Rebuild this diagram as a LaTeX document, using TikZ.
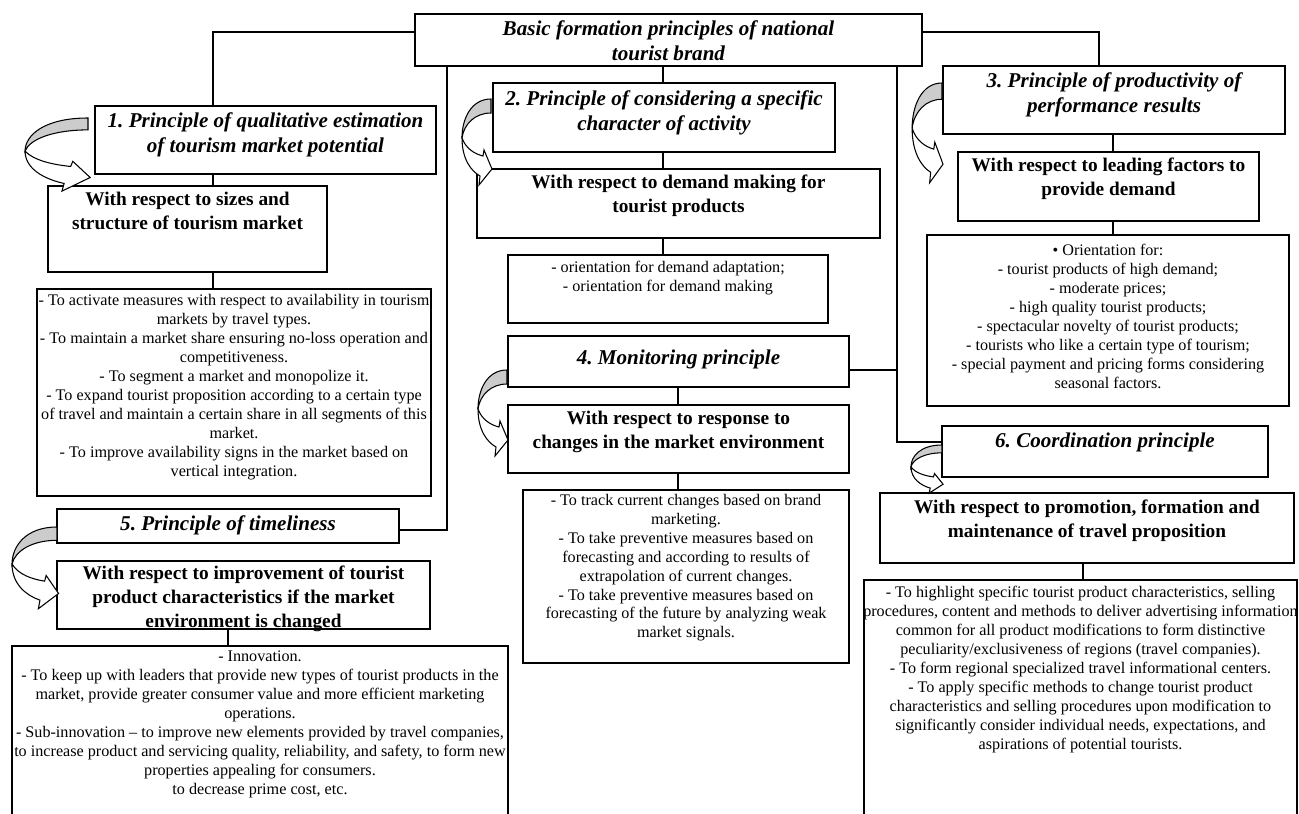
\documentclass[tikz,border=0pt]{standalone}
\usepackage{fontspec}
\setmainfont{Liberation Serif}
\usetikzlibrary{positioning, fit}
\frenchspacing

\tikzset{
	box/.style = {draw, line width=0.7pt, inner sep=0pt},
	ttl/.style = {inner sep=0pt, align=center, font=\bfseries\itshape\fontsize{12}{14.2}\selectfont},
	wrt/.style = {inner sep=0pt, align=center, font=\bfseries\fontsize{11}{13.6}\selectfont},
	lst/.style = {inner sep=0pt, align=center, font=\fontsize{9.2}{10.8}\selectfont},
	bendarrow/.pic = {
		\filldraw[fill=gray!40] (0,0) .. controls (-20,0) and (-29,20) .. (-29,39)
			.. controls (-27,25) and (-16,14) .. (0,14) -- cycle;
		\filldraw[fill=white] (-29,39) .. controls (-29,60) and (-20,72) .. (-11,77)
			-- (-12,86) -- (1,70) -- (-7,51) -- (-8,57)
			.. controls (-16,55) and (-25,50) .. cycle;
	}
}

\begin{document}
\begin{tikzpicture}[x=0.02cm, y=-0.02cm, line width=0.6pt]
	\useasboundingbox (0,0) rectangle (1299,814);

	% boxes
	\node[box, fit={(415,14) (922,66)}] (tb) {};
	\node[box, fit={(95,106) (436,174)}] (p1) {};
	\node[box, fit={(48,186) (327,272)}] (p1a) {};
	\node[box, fit={(37,289) (431,496)}] (p1b) {};
	\node[box, fit={(493,83) (835,152)}] (p2) {};
	\node[box, fit={(477,169) (880,238)}] (p2a) {};
	\node[box, fit={(508,255) (828,323)}] (p2b) {};
	\node[box, fit={(943,66) (1285,134)}] (p3) {};
	\node[box, fit={(958,152) (1259,221)}] (p3a) {};
	\node[box, fit={(927,235) (1289,406)}] (p3b) {};
	\node[box, fit={(508,336) (849,387)}] (p4) {};
	\node[box, fit={(508,405) (849,473)}] (p4a) {};
	\node[box, fit={(523,490) (849,663)}] (p4b) {};
	\node[box, fit={(57,509) (399,543)}] (p5) {};
	\node[box, fit={(57,561) (430,629)}] (p5a) {};
	\node[box, fit={(12,646) (508,830)}] (p5b) {};
	\node[box, fit={(942,426) (1268,477)}] (p6) {};
	\node[box, fit={(880,493) (1294,563)}] (p6a) {};
	\node[box, fit={(864,580) (1297,830)}] (p6b) {};

	% texts
	\node[ttl, below=0.14cm of tb.north] (tbt) {Basic formation principles of national\\tourist brand};
	\node[ttl, below=0.14cm of p1.north] (p1t) {1. Principle of qualitative estimation\\of tourism market potential};
	\node[wrt, below=0.12cm of p1a.north] (p1at) {With respect to sizes and\\structure of tourism market};
	\node[lst, below=0.11cm of p1b.north] (p1bt) {- To activate measures with respect to availability in tourism\\
		markets by travel types.\\
		- To maintain a market share ensuring no-loss operation and\\
		competitiveness.\\
		- To segment a market and monopolize it.\\
		- To expand tourist proposition according to a certain type\\
		of travel and maintain a certain share in all segments of this\\
		market.\\
		- To improve availability signs in the market based on\\
		vertical integration.};

	\node[ttl, below=0.16cm of p2.north] (p2t) {2. Principle of considering a specific\\character of activity};
	\node[wrt, below=0.12cm of p2a.north] (p2at) {With respect to demand making for\\tourist products};
	\node[lst, below=0.12cm of p2b.north] (p2bt) {- orientation for demand adaptation;\\- orientation for demand making};

	\node[ttl, below=0.14cm of p3.north] (p3t) {3. Principle of productivity of\\performance results};
	\node[wrt, below=0.12cm of p3a.north] (p3at) {With respect to leading factors to\\provide demand};
	\node[lst, below=0.18cm of p3b.north] (p3bt) {\textbullet{} Orientation for:\\
		- tourist products of high demand;\\
		- moderate prices;\\
		- high quality tourist products;\\
		- spectacular novelty of tourist products;\\
		- tourists who like a certain type of tourism;\\
		- special payment and pricing forms considering\\
		seasonal factors.};

	\node[ttl, below=0.28cm of p4.north] (p4t) {4. Monitoring principle};
	\node[wrt, below=0.12cm of p4a.north] (p4at) {With respect to response to\\changes in the market environment};
	\node[lst, below=0.08cm of p4b.north] (p4bt) {- To track current changes based on brand\\
		marketing.\\
		- To take preventive measures based on\\
		forecasting and according to results of\\
		extrapolation of current changes.\\
		- To take preventive measures based on\\
		forecasting of the future by analyzing weak\\
		market signals.};

	\node[ttl, below=0.14cm of p5.north] (p5t) {5. Principle of timeliness};
	\node[wrt, below=0.10cm of p5a.north] (p5at) {With respect to improvement of tourist\\product characteristics if the market\\environment is changed};
	\node[lst, below=0.10cm of p5b.north] (p5bt) {- Innovation.\\
		- To keep up with leaders that provide new types of tourist products in the\\
		market, provide greater consumer value and more efficient marketing\\
		operations.\\
		- Sub-innovation -- to improve new elements provided by travel companies,\\
		to increase product and servicing quality, reliability, and safety, to form new\\
		properties appealing for consumers.\\
		to decrease prime cost, etc.};

	\node[ttl, below=0.14cm of p6.north] (p6t) {6. Coordination principle};
	\node[wrt, below=0.14cm of p6a.north] (p6at) {With respect to promotion, formation and\\maintenance of travel proposition};
	\node[lst, below=0.12cm of p6b.north] (p6bt) {- To highlight specific tourist product characteristics, selling\\
		procedures, content and methods to deliver advertising information\\
		common for all product modifications to form distinctive\\
		peculiarity/exclusiveness of regions (travel companies).\\
		- To form regional specialized travel informational centers.\\
		- To apply specific methods to change tourist product\\
		characteristics and selling procedures upon modification to\\
		significantly consider individual needs, expectations, and\\
		aspirations of potential tourists.};

	% connectors
	\coordinate (s1) at (213,32);
	\coordinate (s2) at (663,0);
	\coordinate (s3) at (1099,32);
	\coordinate (s3b) at (1113,0);
	\coordinate (s4) at (678,370);
	\coordinate (s5) at (447,530);
	\coordinate (s5b) at (228,0);
	\coordinate (s6) at (897,442);
	\coordinate (s6b) at (1083,0);

	\draw (s1 -| tb.west) -| (p1.north -| s1);
	\draw (p1.south -| s1) -- (p1a.north -| s1);
	\draw (p1a.south -| s1) -- (p1b.north -| s1);
	\draw (tb.south -| s2) -- (p2.north -| s2);
	\draw (p2.south -| s2) -- (p2a.north -| s2);
	\draw (p2a.south -| s2) -- (p2b.north -| s2);
	\draw (s3 -| tb.east) -| (p3.north -| s3);
	\draw (p3.south -| s3b) -- (p3a.north -| s3b);
	\draw (p3a.south -| s3b) -- (p3b.north -| s3b);
	\draw (p4.east |- s4) -- (s4 -| s6);
	\draw (p4.south -| s4) -- (p4a.north -| s4);
	\draw (p4a.south -| s4) -- (p4b.north -| s4);
	\draw (tb.south -| s5) |- (p5.east |- s5);
	\draw (p5a.south -| s5b) -- (p5b.north -| s5b);
	\draw (tb.south -| s6) |- (p6.west |- s6);
	\draw (p6a.south -| s6b) -- (p6b.north -| s6b);

	% turning arrows
	\pic[xscale=2.17, yscale=0.85] at (88,118) {bendarrow};
	\pic at (491,99) {bendarrow};
	\pic[xscale=1.03, yscale=1.16] at (942,83) {bendarrow};
	\pic at (507,370) {bendarrow};
	\pic[xscale=1.55, yscale=0.95] at (57,527) {bendarrow};
	\pic[xscale=1.07, yscale=0.56] at (942,445) {bendarrow};
\end{tikzpicture}
\end{document}
